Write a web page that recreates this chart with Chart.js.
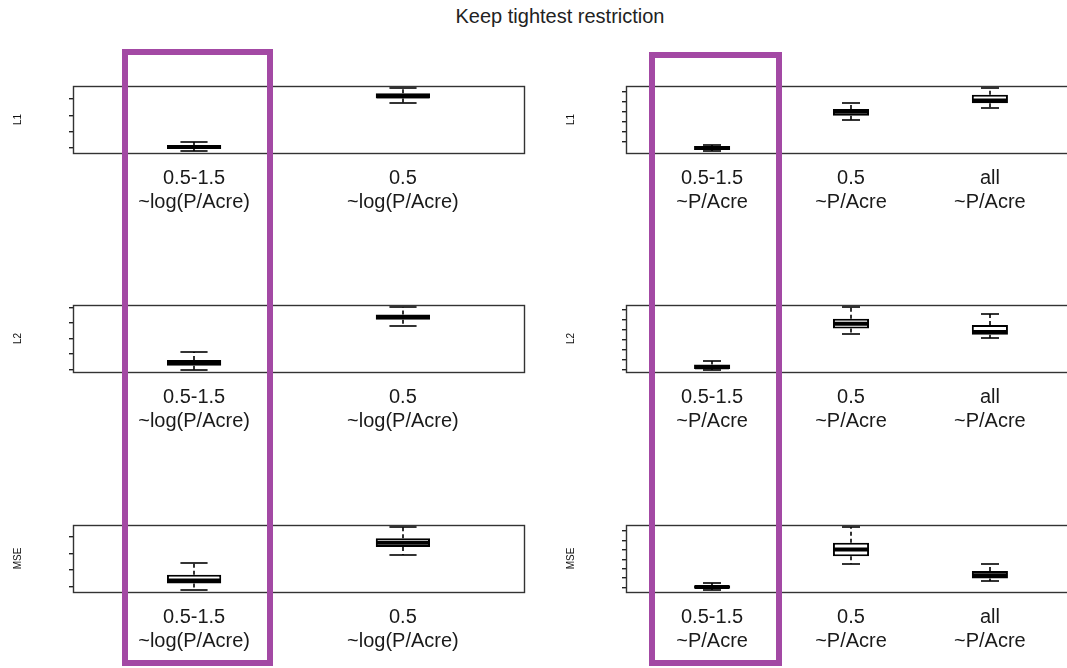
<!DOCTYPE html>
<html><head><meta charset="utf-8">
<script src="https://cdn.jsdelivr.net/npm/chart.js@4.4.1/dist/chart.umd.min.js"></script>
<style>
html,body{margin:0;padding:0;background:#fff;overflow:hidden;width:1067px;height:668px;}
body{position:relative;}
canvas{position:absolute;}
#title{position:absolute;left:0;width:1120px;top:4px;line-height:24px;text-align:center;font-size:20px;font-family:"Liberation Sans",Arial,sans-serif;color:#222;white-space:nowrap;}
.hl{position:absolute;border:6px solid #A349A4;box-sizing:border-box;pointer-events:none;z-index:5;}
</style></head><body>
<div id="title">Keep tightest restriction</div>
<canvas id="c1"></canvas><canvas id="c2"></canvas>
<canvas id="c3"></canvas><canvas id="c4"></canvas>
<canvas id="c5"></canvas><canvas id="c6"></canvas>
<div class="hl" style="left:122px;top:49px;width:151px;height:617px"></div>
<div class="hl" style="left:649px;top:52px;width:133px;height:614px"></div>
<script>
// category labels
const leftLabels = [["0.5-1.5","~log(P/Acre)"],["0.5","~log(P/Acre)"]];
const rightLabels = [["0.5-1.5","~P/Acre"],["0.5","~P/Acre"],["all","~P/Acre"]];
const rowTitles = ["L1","L2","MSE"];

// five-number summaries per box: [lower whisker, Q1, median, Q3, upper whisker]
const L1_logP  = [[0.84,0.94,1.06,1.18,1.34],[3.78,4.04,4.18,4.35,4.65]];
const L1_P     = [[0.16,0.22,0.40,0.61,0.745],[3.23,3.62,4.01,4.30,4.92],[4.40,4.86,5.14,5.71,6.33]];
const L2_logP  = [[1.00,1.24,1.43,1.62,2.10],[3.83,4.21,4.38,4.55,5.00]];
const L2_P     = [[-0.03,0.03,0.20,0.47,0.83],[3.53,4.13,4.63,5.13,6.27],[3.13,3.50,3.77,4.50,5.60]];
const MSE_logP = [[0.84,1.20,1.38,1.72,2.41],[2.93,3.39,3.64,3.90,4.55]];
const MSE_P    = [[-0.21,-0.14,0.05,0.25,0.49],[2.54,3.32,4.06,4.77,6.39],[0.74,0.95,1.30,1.77,2.54]];

// y tick positions (unlabelled tick marks)
const L1_logP_ticks  = [1,2,3,4];
const L1_P_ticks     = [1,2,3,4,5,6];
const L2_logP_ticks  = [1,2,3,4,5];
const L2_P_ticks     = [0,1,2,3,4,5,6];
const MSE_logP_ticks = [1,2,3,4];
const MSE_P_ticks    = [0,1,2,3,4,5,6];

const FONT = '"Liberation Sans", Arial, sans-serif';

function yLimits(stats){
  let lo = Infinity, hi = -Infinity;
  stats.forEach(s => { lo = Math.min(lo, s[0]); hi = Math.max(hi, s[4]); });
  const p = 0.04 * (hi - lo);
  return [lo - p, hi + p];
}

function makePanel(id, left, top, width, padRight, stats, ticks, labels, rowTitle){
  const cv = document.getElementById(id);
  const height = 160;
  cv.width = width; cv.height = height;
  cv.style.left = left + 'px'; cv.style.top = top + 'px';
  cv.style.width = width + 'px'; cv.style.height = height + 'px';
  const n = stats.length;
  const [ymin, ymax] = yLimits(stats);

  const boxPlugin = {
    id: 'boxWhiskers' + id,
    afterDatasetsDraw(chart){
      const ctx = chart.ctx, xs = chart.scales.x, ys = chart.scales.y;
      const meta = chart.getDatasetMeta(0);
      ctx.save();
      ctx.strokeStyle = '#000';
      const line = (x1,y1,x2,y2) => { ctx.beginPath(); ctx.moveTo(x1,y1); ctx.lineTo(x2,y2); ctx.stroke(); };
      stats.forEach((s, i) => {
        const w = meta.data[i].width;
        const cx = Math.round(xs.getPixelForValue(i + 1));
        const lo = Math.round(ys.getPixelForValue(s[0]));
        const q1 = ys.getPixelForValue(s[1]);
        const md = ys.getPixelForValue(s[2]);
        const q3 = ys.getPixelForValue(s[3]);
        const hi = Math.round(ys.getPixelForValue(s[4]));
        ctx.lineWidth = 1.6;
        ctx.setLineDash([4,3]);
        if (hi < q3) line(cx, q3, cx, hi);
        if (lo > q1) line(cx, q1, cx, lo);
        ctx.setLineDash([]);
        line(cx - w/4, hi, cx + w/4, hi);
        line(cx - w/4, lo, cx + w/4, lo);
        ctx.lineWidth = 4;
        line(cx - w/2 + 1, md, cx + w/2 - 1, md);
      });
      ctx.restore();
    },
    afterDraw(chart){
      const a = chart.chartArea, ctx = chart.ctx;
      ctx.save();
      ctx.strokeStyle = '#333'; ctx.lineWidth = 1.4;
      ctx.strokeRect(Math.round(a.left) + 0.5, Math.round(a.top) + 0.5,
                     Math.round(a.right - a.left), Math.round(a.bottom - a.top));
      ctx.restore();
    }
  };

  new Chart(cv, {
    type: 'bar',
    data: {
      datasets: [{
        data: stats.map((s, i) => ({ x: i + 1, y: [s[1], s[3]] })),
        backgroundColor: '#fff',
        borderColor: '#000',
        borderWidth: 2,
        borderSkipped: false,
        barPercentage: 0.26,
        categoryPercentage: 1
      }]
    },
    options: {
      responsive: false,
      animation: false,
      devicePixelRatio: 1,
      layout: { padding: { left: 0, right: padRight, top: 10, bottom: 0 } },
      plugins: { legend: { display: false }, tooltip: { enabled: false }, title: { display: false } },
      scales: {
        x: {
          type: 'linear',
          offset: false,
          min: 0.5 - 0.04 * n,
          max: n + 0.5 + 0.04 * n,
          afterBuildTicks: sc => { sc.ticks = labels.map((l, i) => ({ value: i + 1 })); },
          afterFit: sc => { sc.height = height - 10 - 67; },
          grid: { display: false, drawTicks: false, offset: false },
          border: { display: false },
          ticks: {
            autoSkip: false, maxRotation: 0, minRotation: 0, padding: 13,
            color: '#1a1a1a', font: { family: FONT, size: 20 },
            callback: (v, idx) => labels[idx]
          }
        },
        y: {
          type: 'linear',
          min: ymin, max: ymax,
          afterBuildTicks: sc => { sc.ticks = ticks.map(v => ({ value: v })); },
          afterFit: sc => { sc.width = 73; },
          grid: { drawOnChartArea: false, drawTicks: true, tickLength: 4, color: '#222', lineWidth: 1.4 },
          border: { display: false },
          ticks: { display: false },
          title: { display: true, text: rowTitle, color: '#111', font: { family: FONT, size: 10 }, padding: { top: 12, bottom: 0 } }
        }
      }
    },
    plugins: [boxPlugin]
  });
}

makePanel('c1', 0,   76,  545, 21, L1_logP,  L1_logP_ticks,  leftLabels,  rowTitles[0]);
makePanel('c2', 553, 76,  540, 17, L1_P,     L1_P_ticks,     rightLabels, rowTitles[0]);
makePanel('c3', 0,   295, 545, 21, L2_logP,  L2_logP_ticks,  leftLabels,  rowTitles[1]);
makePanel('c4', 553, 295, 540, 17, L2_P,     L2_P_ticks,     rightLabels, rowTitles[1]);
makePanel('c5', 0,   515, 545, 21, MSE_logP, MSE_logP_ticks, leftLabels,  rowTitles[2]);
makePanel('c6', 553, 515, 540, 17, MSE_P,    MSE_P_ticks,    rightLabels, rowTitles[2]);
</script>
</body></html>
